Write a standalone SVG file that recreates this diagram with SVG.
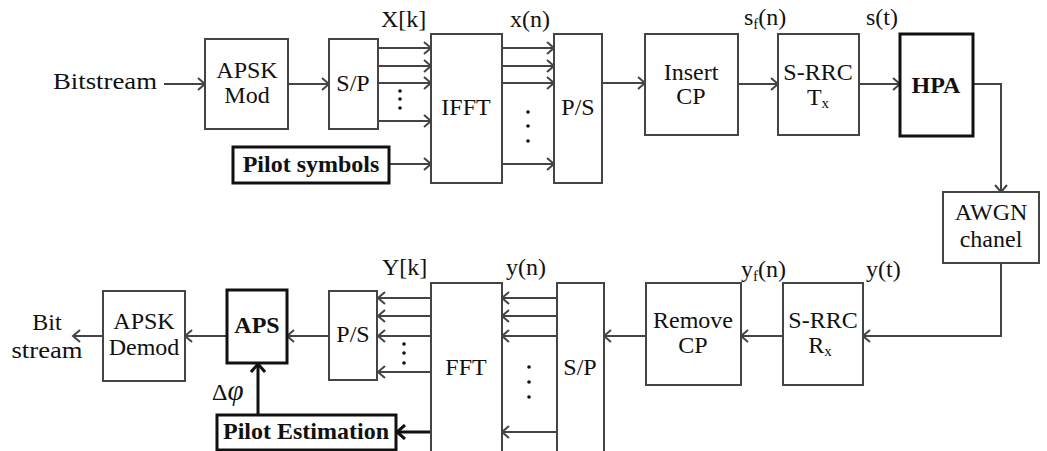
<svg xmlns="http://www.w3.org/2000/svg" width="1047" height="451" viewBox="0 0 1047 451">
<defs>
<style>
text{font-family:"Liberation Serif","Times New Roman",serif;font-size:24px;fill:#111}
.c{text-anchor:middle}
.b{font-weight:bold}
.box{fill:#fff;stroke:#444;stroke-width:2}
.bbox{fill:#fff;stroke:#111;stroke-width:3}
.ln{fill:none;stroke:#444;stroke-width:2}
.bln{fill:none;stroke:#111;stroke-width:3}
.sub{font-size:15px}
</style>
<marker id="a" markerUnits="userSpaceOnUse" markerWidth="12" markerHeight="14" refX="8" refY="7" orient="auto">
<path d="M1,1 L8,7 L1,13" fill="none" stroke="#444" stroke-width="2"/>
</marker>
<marker id="ab" markerUnits="userSpaceOnUse" markerWidth="14" markerHeight="16" refX="9" refY="8" orient="auto">
<path d="M1,1 L9,8 L1,15" fill="none" stroke="#111" stroke-width="3"/>
</marker>
</defs>
<rect width="1047" height="451" fill="#fff"/>

<g id="connectors">
<line class="ln" x1="164" y1="84" x2="205" y2="84" marker-end="url(#a)"/>
<line class="ln" x1="288" y1="84" x2="329" y2="84" marker-end="url(#a)"/>
<line class="ln" x1="378" y1="48" x2="431" y2="48" marker-end="url(#a)"/>
<line class="ln" x1="378" y1="66" x2="431" y2="66" marker-end="url(#a)"/>
<line class="ln" x1="378" y1="83" x2="431" y2="83" marker-end="url(#a)"/>
<line class="ln" x1="378" y1="121" x2="431" y2="121" marker-end="url(#a)"/>
<line class="ln" x1="389" y1="164" x2="431" y2="164" marker-end="url(#a)"/>
<line class="ln" x1="502" y1="48" x2="554" y2="48" marker-end="url(#a)"/>
<line class="ln" x1="502" y1="66" x2="554" y2="66" marker-end="url(#a)"/>
<line class="ln" x1="502" y1="83" x2="554" y2="83" marker-end="url(#a)"/>
<line class="ln" x1="502" y1="164" x2="554" y2="164" marker-end="url(#a)"/>
<line class="ln" x1="602" y1="83" x2="645" y2="83" marker-end="url(#a)"/>
<line class="ln" x1="738" y1="84" x2="778" y2="84" marker-end="url(#a)"/>
<line class="ln" x1="859" y1="84" x2="900" y2="84" marker-end="url(#a)"/>
<polyline class="ln" points="973,84 1001,84 1001,192" marker-end="url(#a)"/>
<polyline class="ln" points="1001,263 1001,336 863,336" marker-end="url(#a)"/>
<line class="ln" x1="783" y1="336" x2="741" y2="336" marker-end="url(#a)"/>
<line class="ln" x1="646" y1="336" x2="604" y2="336" marker-end="url(#a)"/>
<line class="ln" x1="557" y1="298" x2="502" y2="298" marker-end="url(#a)"/>
<line class="ln" x1="557" y1="316" x2="502" y2="316" marker-end="url(#a)"/>
<line class="ln" x1="557" y1="336" x2="502" y2="336" marker-end="url(#a)"/>
<line class="ln" x1="557" y1="432" x2="502" y2="432" marker-end="url(#a)"/>
<line class="ln" x1="431" y1="298" x2="378" y2="298" marker-end="url(#a)"/>
<line class="ln" x1="431" y1="316" x2="378" y2="316" marker-end="url(#a)"/>
<line class="ln" x1="431" y1="336" x2="378" y2="336" marker-end="url(#a)"/>
<line class="ln" x1="431" y1="372" x2="378" y2="372" marker-end="url(#a)"/>
<line class="bln" x1="431" y1="432" x2="397" y2="432" marker-end="url(#ab)"/>
<line class="ln" x1="329" y1="336" x2="287" y2="336" marker-end="url(#a)"/>
<line class="bln" x1="258" y1="415" x2="258" y2="364" marker-end="url(#ab)"/>
<line class="ln" x1="226" y1="336" x2="185" y2="336" marker-end="url(#a)"/>
<line class="ln" x1="103" y1="336" x2="73" y2="336" marker-end="url(#a)"/>
<g fill="#111">
<circle cx="400" cy="91" r="1.8"/><circle cx="400" cy="99" r="1.8"/><circle cx="400" cy="108" r="1.8"/>
<circle cx="528" cy="112" r="1.8"/><circle cx="528" cy="126" r="1.8"/><circle cx="528" cy="141" r="1.8"/>
<circle cx="529" cy="367" r="1.8"/><circle cx="529" cy="382" r="1.8"/><circle cx="529" cy="397" r="1.8"/>
<circle cx="404" cy="344" r="1.8"/><circle cx="404" cy="353" r="1.8"/><circle cx="404" cy="363" r="1.8"/>
</g>
</g>

<text id="bitstream-in" x="53" y="89" textLength="104" lengthAdjust="spacingAndGlyphs">Bitstream</text>

<g id="apsk-mod"><rect class="box" x="205" y="39" width="83" height="90"/>
<text class="c" x="247" y="78">APSK</text><text class="c" x="247" y="103">Mod</text></g>
<g id="sp-top"><rect class="box" x="329" y="39" width="49" height="90"/>
<text class="c" x="353" y="91">S/P</text></g>
<g id="pilot-symbols"><rect class="bbox" x="233" y="147" width="156" height="36"/>
<text class="c b" x="311" y="172">Pilot symbols</text></g>
<g id="ifft"><rect class="box" x="431" y="34" width="71" height="149"/>
<text class="c" x="466" y="115">IFFT</text></g>
<text x="381" y="27">X[k]</text>
<g id="ps-top"><rect class="box" x="554" y="34" width="48" height="149"/>
<text class="c" x="578" y="115">P/S</text></g>
<text x="510" y="27">x(n)</text>
<g id="insert-cp"><rect class="box" x="645" y="34" width="93" height="101"/>
<text class="c" x="691" y="80">Insert</text><text class="c" x="691" y="104">CP</text></g>
<text x="744" y="25">s<tspan class="sub" dy="4">f</tspan><tspan dy="-4">(n)</tspan></text>
<g id="srrc-tx"><rect class="box" x="778" y="34" width="81" height="101"/>
<text class="c" x="818" y="80">S-RRC</text><text class="c" x="818" y="105">T<tspan class="sub" dy="3">x</tspan></text></g>
<text x="866" y="25">s(t)</text>
<g id="hpa"><rect class="bbox" x="900" y="34" width="73" height="102"/>
<text class="c b" x="936" y="93">HPA</text></g>
<g id="awgn"><rect class="box" x="943" y="192" width="96" height="71"/>
<text class="c" x="991" y="220">AWGN</text><text class="c" x="991" y="247">chanel</text></g>

<g id="srrc-rx"><rect class="box" x="783" y="283" width="80" height="102"/>
<text class="c" x="823" y="328">S-RRC</text><text class="c" x="820" y="353">R<tspan class="sub" dy="3">x</tspan></text></g>
<text x="866" y="277">y(t)</text>
<g id="remove-cp"><rect class="box" x="646" y="283" width="95" height="102"/>
<text class="c" x="693" y="328">Remove</text><text class="c" x="693" y="353">CP</text></g>
<text x="741" y="277">y<tspan class="sub" dy="4">f</tspan><tspan dy="-4">(n)</tspan></text>
<g id="sp-bottom"><rect class="box" x="557" y="283" width="47" height="180"/>
<text class="c" x="580" y="375">S/P</text></g>
<text x="506" y="275">y(n)</text>
<g id="fft"><rect class="box" x="431" y="283" width="71" height="180"/>
<text class="c" x="466" y="375">FFT</text></g>
<text x="382" y="275">Y[k]</text>
<g id="ps-bottom"><rect class="box" x="329" y="291" width="48" height="89"/>
<text class="c" x="353" y="342">P/S</text></g>
<g id="aps"><rect class="bbox" x="227" y="290" width="60" height="73"/>
<text class="c b" x="257" y="333">APS</text></g>
<g id="pilot-estimation"><rect class="bbox" x="217" y="415" width="179" height="35"/>
<text class="c b" x="306" y="439">Pilot Estimation</text></g>
<text x="212" y="400" font-size="27">Δ<tspan font-style="italic" font-size="29">φ</tspan></text>
<g id="apsk-demod"><rect class="box" x="103" y="291" width="82" height="90"/>
<text class="c" x="144" y="329">APSK</text><text class="c" x="144" y="355">Demod</text></g>
<text class="c" x="47" y="330" font-size="26">Bit</text>
<text class="c" x="47" y="358" textLength="71" lengthAdjust="spacingAndGlyphs" font-size="26">stream</text>
</svg>
